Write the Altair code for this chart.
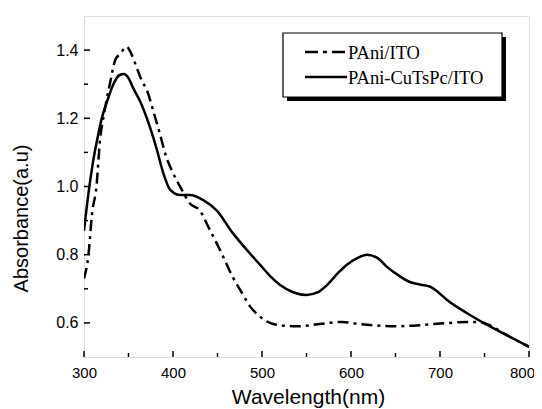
import altair as alt
import pandas as pd

# --- data ---
series_names = ["PAni/ITO", "PAni-CuTsPc/ITO"]

wl_pani = [300, 305, 309, 314, 318, 323, 329, 335, 341, 348, 353, 359, 365, 371, 378,
           385, 392, 400, 410, 419, 430, 440, 449, 458, 467, 477, 487, 497, 505, 520,
           540, 560, 575, 590, 605, 625, 650, 670, 690, 710, 730, 745, 755, 775, 800]
abs_pani = [0.73, 0.80, 0.92, 1.00, 1.136, 1.22, 1.30, 1.37, 1.39, 1.41, 1.39, 1.35, 1.31, 1.28, 1.22,
            1.157, 1.09, 1.04, 0.99, 0.95, 0.93, 0.88, 0.834, 0.785, 0.735, 0.69, 0.647, 0.62, 0.605, 0.593,
            0.59, 0.595, 0.60, 0.603, 0.598, 0.593, 0.59, 0.592, 0.596, 0.60, 0.603, 0.602, 0.594, 0.564, 0.53]

wl_cu = [300, 305, 310, 315, 320, 326, 333, 340, 345, 350, 355, 363, 374, 382, 389,
         397, 408, 419, 434, 449, 467, 486, 498, 510, 520, 535, 550, 563, 573, 585,
         595, 607, 618, 630, 640, 653, 666, 678, 689, 698, 708, 730, 753, 775, 800]
abs_cu = [0.87, 0.98, 1.07, 1.14, 1.20, 1.25, 1.30, 1.327, 1.33, 1.318, 1.29, 1.25, 1.175, 1.107, 1.04,
          0.99, 0.975, 0.975, 0.96, 0.93, 0.864, 0.805, 0.77, 0.735, 0.712, 0.69, 0.682, 0.69, 0.711, 0.745,
          0.77, 0.79, 0.80, 0.79, 0.765, 0.74, 0.72, 0.712, 0.706, 0.69, 0.667, 0.629, 0.594, 0.564, 0.53]

x_major = [300, 400, 500, 600, 700, 800]
x_minor = [350, 450, 550, 650, 750]
y_major = [0.6, 0.8, 1.0, 1.2, 1.4]
y_minor = [0.7, 0.9, 1.1, 1.3]

W, H = 445, 341
SANS = "Liberation Sans"
SERIF = "Liberation Serif"
DASHDOT = [11, 5, 3, 5]
DASHDOT_SAMPLE = [13, 5, 4, 5]

xs = alt.Scale(domain=[300, 800], nice=False, zero=False)
ys = alt.Scale(domain=[0.5, 1.5], nice=False, zero=False)

df_pani = pd.DataFrame({"wl": wl_pani, "a": abs_pani})
df_cu = pd.DataFrame({"wl": wl_cu, "a": abs_cu})

x_axis = alt.Axis(values=x_major, tickSize=0, ticks=False, labelPadding=8, labelFontSize=15,
                  labelFont=SANS, labelColor="black", labelFlush=False, domain=False, grid=False,
                  labelOffset={"condition": {"test": "datum.value === 800", "value": -7}, "value": 0},
                  title="Wavelength(nm)", titleFont=SANS, titleFontSize=21,
                  titleFontWeight="normal", titleColor="black",
                  titleBaseline="alphabetic", titleY=46, titleX=224)
y_axis = alt.Axis(values=y_major, tickSize=0, ticks=False, labelPadding=6, labelFontSize=16,
                  labelFont=SANS, labelColor="black", labelFlush=False, domain=False, grid=False,
                  format=".1f",
                  title="Absorbance(a.u)", titleFont=SANS, titleFontSize=20,
                  titleFontWeight="normal", titleColor="black", titleAngle=-90,
                  titleBaseline="middle", titleAlign="center", titleX=-63, titleY=202)

line_pani = alt.Chart(df_pani).mark_line(color="black", strokeWidth=2.5, strokeDash=DASHDOT,
                                         interpolate="monotone", clip=True).encode(
    x=alt.X("wl:Q", scale=xs, axis=x_axis),
    y=alt.Y("a:Q", scale=ys, axis=y_axis),
)
line_cu = alt.Chart(df_cu).mark_line(color="black", strokeWidth=2.5,
                                     interpolate="monotone", clip=True).encode(
    x=alt.X("wl:Q", scale=xs),
    y=alt.Y("a:Q", scale=ys),
)

# inward ticks
xt_major = alt.Chart(pd.DataFrame({"v": x_major})).mark_rule(color="black", strokeWidth=1.5).encode(
    x=alt.X("v:Q", scale=xs), y=alt.value(H), y2=alt.value(H - 6))
xt_minor = alt.Chart(pd.DataFrame({"v": x_minor})).mark_rule(color="black", strokeWidth=1.5).encode(
    x=alt.X("v:Q", scale=xs), y=alt.value(H), y2=alt.value(H - 4))
yt_major = alt.Chart(pd.DataFrame({"v": y_major})).mark_rule(color="black", strokeWidth=1.5).encode(
    y=alt.Y("v:Q", scale=ys), x=alt.value(0), x2=alt.value(6))
yt_minor = alt.Chart(pd.DataFrame({"v": y_minor})).mark_rule(color="black", strokeWidth=1.5).encode(
    y=alt.Y("v:Q", scale=ys), x=alt.value(0), x2=alt.value(4))

# legend box with shadow
leg = pd.DataFrame({"name": series_names})
shadow = alt.Chart(leg.head(1)).mark_rect(color="black").encode(
    x=alt.value(203), x2=alt.value(422), y=alt.value(21), y2=alt.value(85))
box = alt.Chart(leg.head(1)).mark_rect(fill="white", stroke="black", strokeWidth=1.2).encode(
    x=alt.value(199), x2=alt.value(418), y=alt.value(17), y2=alt.value(81))
s1 = alt.Chart(leg.head(1)).mark_rule(color="black", strokeWidth=2.5, strokeDash=DASHDOT_SAMPLE).encode(
    x=alt.value(221), x2=alt.value(263), y=alt.value(36))
s2 = alt.Chart(leg.head(1)).mark_rule(color="black", strokeWidth=2.5).encode(
    x=alt.value(221), x2=alt.value(263), y=alt.value(61))
t1 = alt.Chart(leg.iloc[[0]]).mark_text(align="left", baseline="middle", font=SERIF, fontSize=18.5,
                                        color="black").encode(
    x=alt.value(264), y=alt.value(37), text="name:N")
t2 = alt.Chart(leg.iloc[[1]]).mark_text(align="left", baseline="middle", font=SERIF, fontSize=18.5,
                                        color="black").encode(
    x=alt.value(264), y=alt.value(62), text="name:N")

chart = alt.layer(
    line_pani, line_cu, xt_major, xt_minor, yt_major, yt_minor,
    shadow, box, s1, s2, t1, t2
).properties(
    width=W, height=H,
    autosize=alt.AutoSizeParams(type="none"),
    padding={"left": 76, "top": 8, "right": 5, "bottom": 60},
).configure_view(
    stroke="black", strokeWidth=2
).configure(background="white")

chart.save("out.html", embed_options={"renderer": "svg", "actions": False})
